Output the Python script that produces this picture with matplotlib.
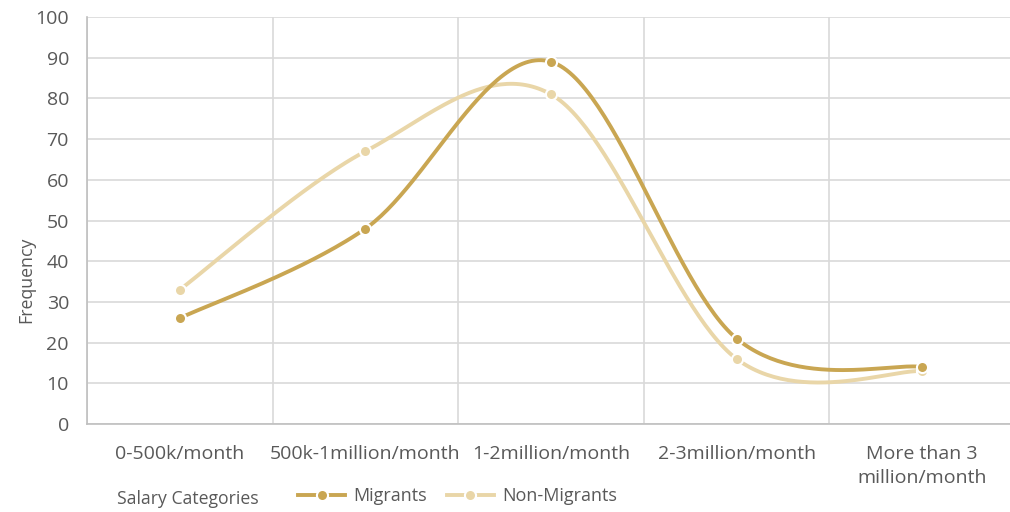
import matplotlib
matplotlib.use("Agg")

import numpy as np
import matplotlib.pyplot as plt

categories = ["0-500k/month", "500k-1million/month", "1-2million/month",
              "2-3million/month", "More than 3\nmillion/month"]
migrants = [26, 48, 89, 21, 14]
non_migrants = [33, 67, 81, 16, 13]


def smooth(xs, ys, n=60):
    # Excel-like smoothing: Catmull-Rom converted to cubic Bezier pieces
    p = np.column_stack([xs, ys]).astype(float)
    p = np.vstack([p[0], p, p[-1]])
    out = []
    t = np.linspace(0, 1, n)[:, None]
    for i in range(1, len(p) - 2):
        p0, p3 = p[i], p[i + 1]
        c1 = p0 + (p[i + 1] - p[i - 1]) / 6
        c2 = p3 - (p[i + 2] - p[i]) / 6
        seg = ((1 - t) ** 3) * p0 + 3 * ((1 - t) ** 2) * t * c1 \
            + 3 * (1 - t) * t ** 2 * c2 + t ** 3 * p3
        out.append(seg)
    seg = np.vstack(out)
    return seg[:, 0], seg[:, 1]


plt.rcParams['font.family'] = ['Open Sans', 'DejaVu Sans']

fig = plt.figure(figsize=(10.1, 5.12), dpi=100)
ax = fig.add_axes([87 / 1010, 88 / 512, 928 / 1010, 407 / 512])

x = np.arange(len(categories))
c_mig = "#C9A652"
c_non = "#E9D6A8"

for vals, col, lab, z in [(non_migrants, c_non, "Non-Migrants", 3),
                          (migrants, c_mig, "Migrants", 4)]:
    sx, sy = smooth(x, vals)
    ax.plot(sx, sy, color=col, lw=2.8, zorder=z, solid_capstyle="round")
    ax.plot(x, vals, "o", color=col, ms=8, mec="white", mew=1.5, zorder=z + 1)

ax.set_xlim(-0.5, 4.5)
ax.set_ylim(0, 100)
ax.set_yticks(range(0, 101, 10))
ax.set_xticks(x)
ax.set_xticklabels(categories, va="top", ha="center", linespacing=1.45)
ax.set_xticks(np.arange(-0.5, 5, 1), minor=True)

ax.grid(axis="y", color="#D9D9D9", lw=1.2)
ax.grid(axis="x", which="minor", color="#D9D9D9", lw=1.2)
ax.set_axisbelow(True)
for s in ["top", "right"]:
    ax.spines[s].set_visible(False)
for s in ["left", "bottom"]:
    ax.spines[s].set_color("#BFBFBF")
    ax.spines[s].set_linewidth(1.2)

ax.tick_params(axis="both", which="both", length=0, labelsize=14,
               labelcolor="#595959")
ax.tick_params(axis="x", pad=15)
ax.tick_params(axis="y", pad=13)
ax.set_ylabel("Frequency", fontsize=12.8, color="#595959")
ax.yaxis.set_label_coords(-52 / 928, (424 - 280) / 407)

fig.text(117 / 1010, 13 / 512, "Salary Categories", fontsize=12.7,
         color="#595959", va="center", ha="left")

h1, = ax.plot([], [], "-o", color=c_mig, lw=2.8, ms=8, mec="white", mew=1.5)
h2, = ax.plot([], [], "-o", color=c_non, lw=2.8, ms=8, mec="white", mew=1.5)
fig.legend([h1, h2], ["Migrants", "Non-Migrants"], ncol=2, frameon=False,
           loc="center left", bbox_to_anchor=(282 / 1010, 16 / 512),
           fontsize=13, labelcolor="#595959", handlelength=2.6,
           columnspacing=1.1, handletextpad=0.45)

fig.savefig("out.png", dpi=100, facecolor="white")
